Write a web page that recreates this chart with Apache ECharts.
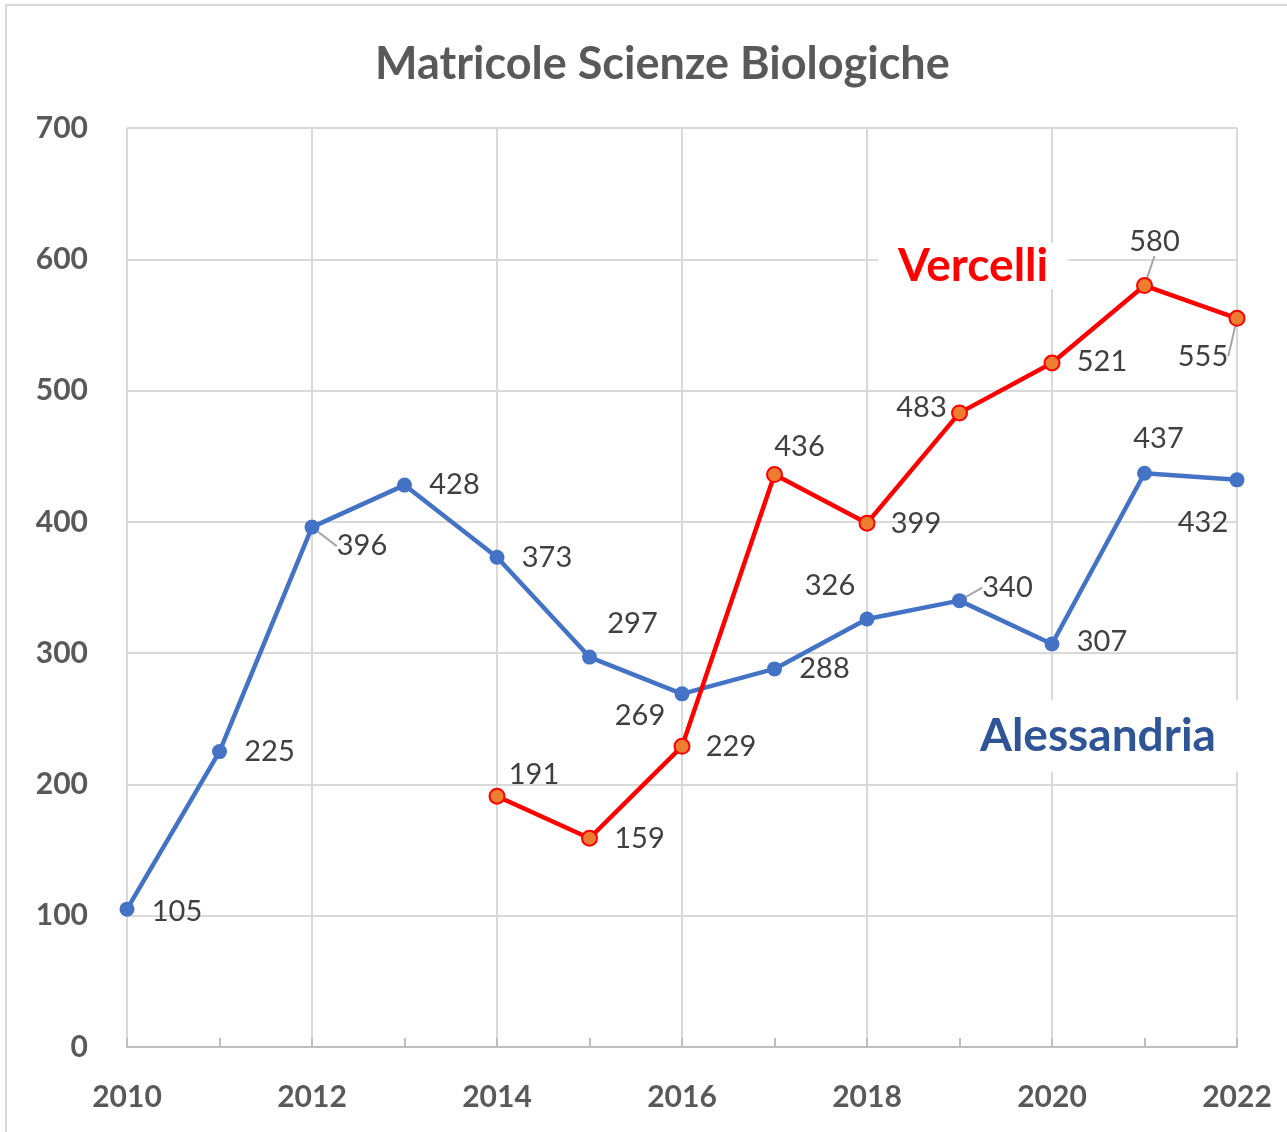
<!DOCTYPE html>
<html>
<head>
<meta charset="utf-8">
<script src="https://cdn.jsdelivr.net/npm/echarts@6/dist/echarts.min.js"></script>
<style>
html,body{margin:0;padding:0;background:#fff;}
#chart{width:1287px;height:1132px;}
</style>
</head>
<body>
<div id="chart"></div>
<script>
const years = ['2010','2011','2012','2013','2014','2015','2016','2017','2018','2019','2020','2021','2022'];
const alessandria = [105,225,396,428,373,297,269,288,326,340,307,437,432];
const vercelli = [null,null,null,null,191,159,229,436,399,483,521,580,555];
const yTicks = [0,100,200,300,400,500,600,700];

// label placement (pixel offsets from each point), not data
const alesOffsets = [[50,2],[50,0],[50,19],[50,0],[50,0],[43,-33],[-42,22],[50,0],[-37,-33],[48,-13],[50,-2],[14,-35],[-34,43]];
const vercOffsets = [null,null,null,null,[37,-22],[50,0],[49,0],[25,-28],[49,0],[-38,-5],[50,-1],[10,-44],[-34,38]];
const alesLeader = [2,9];
const vercLeader = [11,12];

const FONT = 'Lato, "Open Sans", sans-serif';

function build(vals, offs, leaders){
  return vals.map((v,i)=>{
    if(v===null) return null;
    const item = {value:v, label:{offset:offs[i]}};
    if(leaders.indexOf(i)>=0){
      item.labelLine = {show:true, lineStyle:{color:'#a6a6a6', width:2}};
    }
    return item;
  });
}

const chart = echarts.init(document.getElementById('chart'), null, {renderer:'canvas'});
chart.setOption({
  backgroundColor:'#fff',
  animation:false,
  title:{
    text:'Matricole Scienze Biologiche',
    left:370, top:37,
    textStyle:{fontFamily:FONT, fontWeight:'bold', fontSize:45, color:'#595959'}
  },
  grid:{left:127, right:50, top:128, bottom:85, containLabel:false},
  xAxis:{
    type:'category', data:years, boundaryGap:false,
    axisLine:{show:true, lineStyle:{color:'#bfbfbf', width:2}},
    axisTick:{show:true, inside:true, length:9, interval:0, lineStyle:{color:'#bfbfbf', width:2}},
    axisLabel:{interval:(i)=>i%2===0, fontFamily:FONT, fontWeight:'bold', fontSize:30, color:'#595959', margin:35},
    splitLine:{show:true, interval:(i)=>i%2===0, lineStyle:{color:'#d9d9d9', width:2}}
  },
  yAxis:{
    type:'value', min:yTicks[0], max:yTicks[yTicks.length-1], interval:100,
    axisLine:{show:false}, axisTick:{show:false},
    axisLabel:{fontFamily:FONT, fontWeight:'bold', fontSize:30, color:'#595959', margin:39},
    splitLine:{show:true, lineStyle:{color:'#d9d9d9', width:2}}
  },
  graphic:[
    {type:'rect', z:-10, silent:true, shape:{x:6,y:5,width:1400,height:1300}, style:{fill:'none', stroke:'#d9d9d9', lineWidth:2}},
    {type:'text', z:1, left:878, top:243, style:{text:'Vercelli', fontFamily:FONT, fontWeight:'bold', fontSize:46, fill:'#FF0000', backgroundColor:'#fff', padding:[0,20,0,20]}},
    {type:'text', z:1, left:958, top:700, style:{text:'Alessandria', fontFamily:FONT, fontWeight:'bold', fontSize:46, fill:'#2F5597', backgroundColor:'#fff', padding:[13,24,13,22]}}
  ],
  series:[
    {
      name:'Alessandria', type:'line', z:3,
      data:build(alessandria, alesOffsets, alesLeader),
      symbol:'circle', symbolSize:15,
      lineStyle:{color:'#4472C4', width:4.5},
      itemStyle:{color:'#4472C4'},
      label:{show:true, position:'inside', fontFamily:FONT, fontSize:29, color:'#404040', align:'center', verticalAlign:'middle'},
      labelLine:{show:false}
    },
    {
      name:'Vercelli', type:'line', z:4,
      data:build(vercelli, vercOffsets, vercLeader),
      symbol:'circle', symbolSize:15,
      lineStyle:{color:'#FF0000', width:4.5},
      itemStyle:{color:'#ED7D31', borderColor:'#FF0000', borderWidth:2},
      label:{show:true, position:'inside', fontFamily:FONT, fontSize:29, color:'#404040', align:'center', verticalAlign:'middle'},
      labelLine:{show:false}
    }
  ]
});
</script>
</body>
</html>
